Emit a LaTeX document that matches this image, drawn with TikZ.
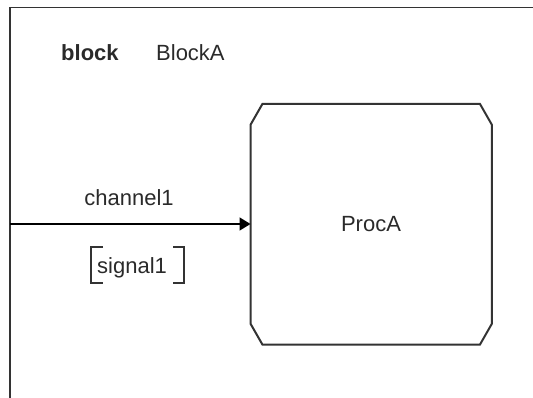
\documentclass[tikz,border=0pt]{standalone}
\usepackage{fontspec}
\setmainfont{Liberation Sans}
\usetikzlibrary{arrows.meta}
\definecolor{linecol}{HTML}{333333}
\definecolor{textcol}{HTML}{2A2A2A}
\tikzset{
  lbl/.style={inner sep=0pt, text=textcol, font=\fontsize{22}{26}\selectfont},
  frameline/.style={draw=linecol, line width=1.6pt},
  procbox/.style={rectangle, draw=none, inner sep=0pt, minimum width=241pt, minimum height=240.5pt},
  octo/.style={draw=linecol, line width=2pt, line join=miter},
  flow/.style={draw=black, line width=1.6pt, -{Triangle[length=11pt,width=13pt]}},
  brk/.style={draw=linecol, line width=1.6pt}
}
\begin{document}
\begin{tikzpicture}[x=1pt,y=-1pt]
\useasboundingbox (0,0) rectangle (533,398);
% block frame
\coordinate (ftl) at (10,7.5);
\coordinate (ftr) at (534,7.5);
\coordinate (fbl) at (10,399);
\draw[frameline] (ftr) -- (ftl) -- (fbl);
% header
\node[lbl, anchor=base west, font=\fontsize{22}{26}\selectfont\bfseries] (kw) at (61,61) {block};
\node[lbl, anchor=base west] (bname) at (156,61) {BlockA};
% process
\node[procbox] (procA) at (371.2,224.25) {};
\draw[octo] ([xshift=12pt]procA.north west) -- ([xshift=-12pt]procA.north east)
  -- ([yshift=-21pt]procA.north east) -- ([yshift=21pt]procA.south east)
  -- ([xshift=-12pt]procA.south east) -- ([xshift=12pt]procA.south west)
  -- ([yshift=21pt]procA.south west) -- ([yshift=-21pt]procA.north west) -- cycle;
\node[lbl, anchor=base] (ptxt) at (371,231.5) {ProcA};
% channel
\coordinate (cin) at (10,224);
\draw[flow] (cin) -- (procA.west |- cin);
\node[lbl, anchor=base] (ch) at (129,205.5) {channel1};
\node[lbl, anchor=base west] (sig) at (97,273) {signal1};
\draw[brk] (103,247) -- (91,247) -- (91,283) -- (103,283);
\draw[brk] (173,247) -- (184,247) -- (184,283) -- (173,283);
\end{tikzpicture}
\end{document}
